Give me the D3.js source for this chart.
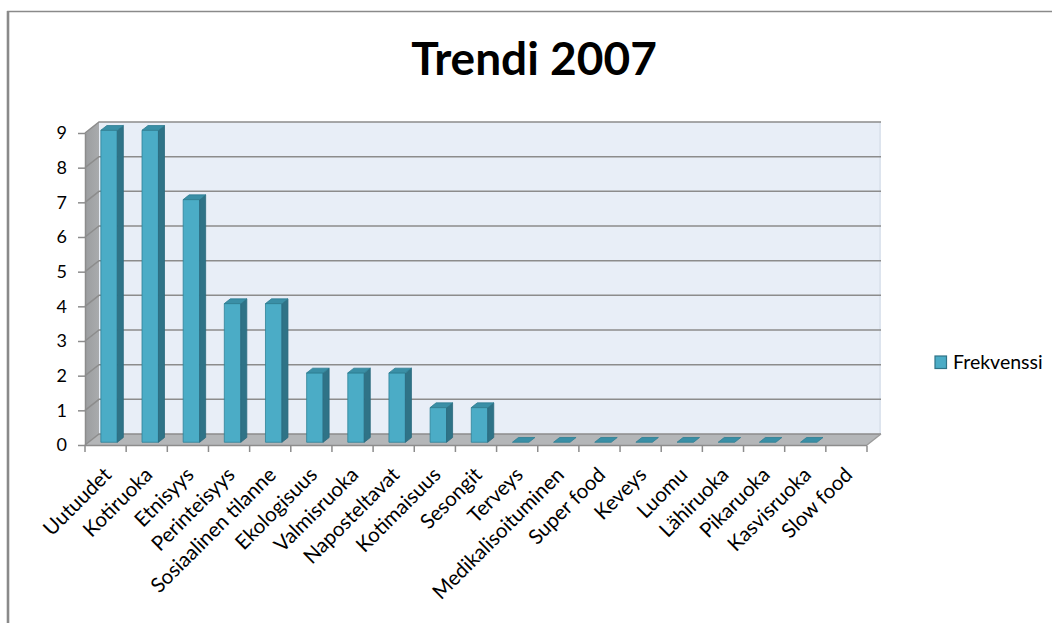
<!DOCTYPE html>
<html>
<head>
<meta charset="utf-8">
<script src="https://cdn.jsdelivr.net/npm/d3@7"></script>
<style>
  html, body { margin: 0; padding: 0; background: #ffffff; }
  svg { display: block; }
  text { font-family: Lato, "Open Sans", "Liberation Sans", sans-serif; fill: #000; }
</style>
</head>
<body>
<svg id="chart" width="1052" height="623"></svg>
<script>
// Trend frequencies 2007
const categories = ["Uutuudet", "Kotiruoka", "Etnisyys", "Perinteisyys", "Sosiaalinen tilanne",
  "Ekologisuus", "Valmisruoka", "Naposteltavat", "Kotimaisuus", "Sesongit", "Terveys",
  "Medikalisoituminen", "Super food", "Keveys", "Luomu", "Lähiruoka", "Pikaruoka",
  "Kasvisruoka", "Slow food"];
const frekvenssi = [9, 9, 7, 4, 4, 2, 2, 2, 1, 1, 0, 0, 0, 0, 0, 0, 0, 0, null];
const yTicks = [0, 1, 2, 3, 4, 5, 6, 7, 8, 9];
const seriesName = "Frekvenssi";
const title = "Trendi 2007";

const svg = d3.select("#chart");

// chart area frame
svg.append("path")
  .attr("d", "M8,623 V11.5 H1052")
  .attr("fill", "none").attr("stroke", "#8a8a8a").attr("stroke-width", 1.6);
svg.append("line").attr("x1", 8).attr("x2", 8).attr("y1", 11).attr("y2", 623)
  .attr("stroke", "#8a8a8a").attr("stroke-width", 2.6);

// 3D plot geometry: front plane + depth offset
const X0 = 85, X1 = 867, DX = 14, DY = 11;
const y = d3.scaleLinear().domain([0, 9]).range([445, 133]);
const x = d3.scaleBand().domain(categories).range([X0, X1]).paddingInner(0).paddingOuter(0);
const proj = (px, v, z) => [px + z * DX, y(v) - z * DY];
const poly = pts => "M" + pts.map(p => p.join(",")).join("L") + "Z";

const plot = svg.append("g");

// back wall
plot.append("path")
  .attr("d", poly([proj(X0, 0, 1), proj(X0, 9, 1), proj(X1, 9, 1), proj(X1, 0, 1)]))
  .attr("fill", "#e8eef7");
plot.append("line")
  .attr("x1", X1 + DX - 1).attr("x2", X1 + DX - 1)
  .attr("y1", y(9) - DY).attr("y2", y(0) - DY)
  .attr("stroke", "#dde4ee").attr("stroke-width", 2);

// side wall
const sideGrad = svg.append("defs").append("linearGradient")
  .attr("id", "sideGrad").attr("x1", 0).attr("x2", 1).attr("y1", 0).attr("y2", 0);
sideGrad.append("stop").attr("offset", 0).attr("stop-color", "#9b9d9f");
sideGrad.append("stop").attr("offset", 1).attr("stop-color", "#a9abad");
plot.append("path")
  .attr("d", poly([proj(X0, 0, 0), proj(X0, 9, 0), proj(X0, 9, 1), proj(X0, 0, 1)]))
  .attr("fill", "url(#sideGrad)");

// floor
plot.append("path")
  .attr("d", poly([proj(X0, 0, 0), proj(X0, 0, 1), proj(X1, 0, 1), proj(X1, 0, 0)]))
  .attr("fill", "#b4b6b8");

// gridlines (side wall + back wall)
plot.append("g").selectAll("path").data(yTicks).join("path")
  .attr("d", v => "M" + proj(X0, v, 0) + "L" + proj(X0, v, 1) + "L" + proj(X1, v, 1))
  .attr("fill", "none").attr("stroke", "#8c8c8c").attr("stroke-width", 1.5);

// floor right edge
plot.append("line")
  .attr("x1", X1).attr("y1", y(0)).attr("x2", X1 + DX).attr("y2", y(0) - DY)
  .attr("stroke", "#9a9a9a").attr("stroke-width", 1.3);

// bars
const z0 = 0.25, z1 = 0.68;
const bw = x.bandwidth() * 0.4;
const bars = plot.append("g").selectAll("g")
  .data(categories.map((c, i) => ({ c, v: frekvenssi[i] })).filter(d => d.v != null))
  .join("g");
bars.each(function (d) {
  const g = d3.select(this);
  const xl = x(d.c) + (x.bandwidth() - bw) / 2, xr = xl + bw;
  if (d.v > 0) {
    g.append("path")
      .attr("d", poly([proj(xl, 0, z0), proj(xl, d.v, z0), proj(xr, d.v, z0), proj(xr, 0, z0)]))
      .attr("fill", "#4bacc6").attr("stroke", "#2f8198").attr("stroke-width", 0.8);
    g.append("path")
      .attr("d", poly([proj(xr, 0, z0), proj(xr, d.v, z0), proj(xr, d.v, z1), proj(xr, 0, z1)]))
      .attr("fill", "#2f7387").attr("stroke", "#2a6a7d").attr("stroke-width", 0.8);
  }
  g.append("path")
    .attr("d", poly([proj(xl, d.v, z0), proj(xr, d.v, z0), proj(xr, d.v, z1), proj(xl, d.v, z1)]))
    .attr("fill", "#3a8fa6").attr("stroke", "#2f7d92").attr("stroke-width", 0.8);
});

// value axis
const yAxis = svg.append("g")
  .attr("transform", `translate(${X0},0)`)
  .call(d3.axisLeft(y).tickValues(yTicks).tickSize(7).tickSizeOuter(0).tickPadding(11));
yAxis.select(".domain").attr("stroke", "#8c8c8c").attr("stroke-width", 1.5);
yAxis.selectAll(".tick line").attr("stroke", "#8c8c8c").attr("stroke-width", 1.5);
yAxis.selectAll(".tick text")
  .style("font-family", "Lato, 'Open Sans', sans-serif")
  .attr("font-size", 18).attr("fill", "#000");

// category axis
const xa = svg.append("g");
xa.append("line").attr("x1", X0).attr("x2", X1).attr("y1", y(0) + 0.5).attr("y2", y(0) + 0.5)
  .attr("stroke", "#8c8c8c").attr("stroke-width", 1.5);
const boundaries = d3.range(categories.length + 1).map(i => X0 + i * x.step());
xa.selectAll("line.tk").data(boundaries).join("line").attr("class", "tk")
  .attr("x1", d => d).attr("x2", d => d)
  .attr("y1", y(0) + 0.5).attr("y2", y(0) + 7)
  .attr("stroke", "#8c8c8c").attr("stroke-width", 1.5);
xa.selectAll("text").data(categories).join("text")
  .attr("transform", d => `translate(${x(d) + x.bandwidth() / 2 + 2},${y(0) + 26}) rotate(-45)`)
  .attr("text-anchor", "end")
  .attr("dy", "0.35em")
  .attr("font-size", 20.5)
  .text(d => d);

// title
svg.append("text")
  .attr("x", 534).attr("y", 75)
  .attr("text-anchor", "middle")
  .attr("font-size", 46).attr("font-weight", 700)
  .text(title);

// legend
const lg = svg.append("g").attr("transform", "translate(935,356)");
lg.append("rect").attr("width", 11.5).attr("height", 12.5)
  .attr("fill", "#4bacc6").attr("stroke", "#2f7387").attr("stroke-width", 1.2);
lg.append("text").attr("x", 18).attr("y", 13).attr("font-size", 19.5).text(seriesName);
</script>
</body>
</html>
